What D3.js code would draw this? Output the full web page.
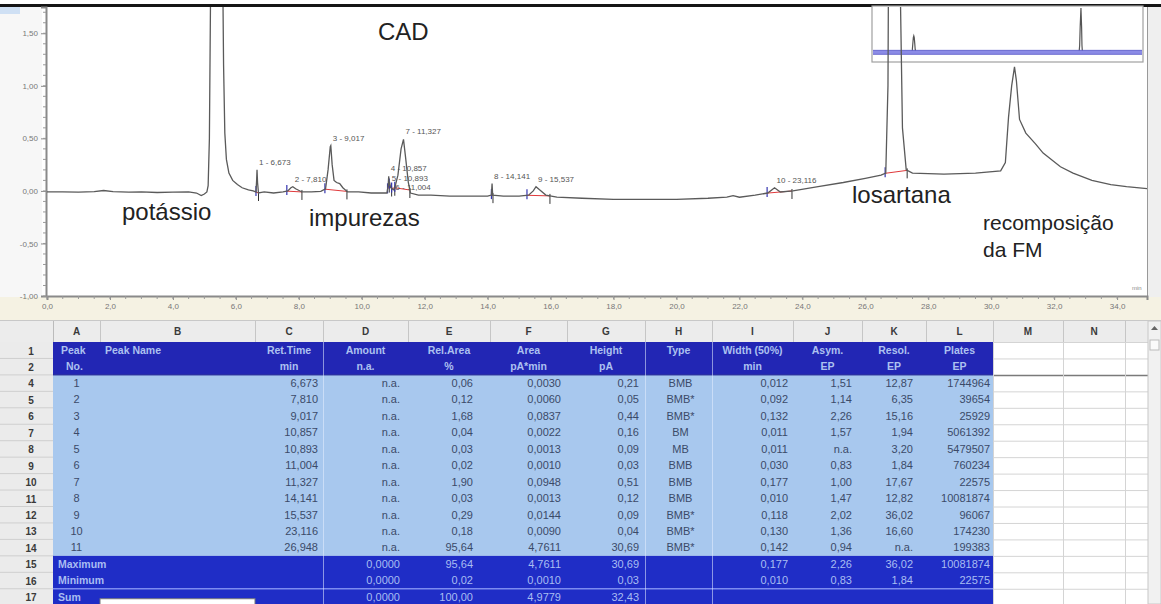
<!DOCTYPE html>
<html>
<head>
<meta charset="utf-8">
<script src="https://cdn.jsdelivr.net/npm/d3@7"></script>
<style>
  html, body { margin: 0; padding: 0; background: #fff; }
  svg { display: block; font-family: Arial, "Liberation Sans", sans-serif; }
</style>
</head>
<body>
<svg id="chart" width="1161" height="604"></svg>
<script>
// ---- chromatogram trace: retention time (min) and detector signal (pA) ----
const traceTime = [
  0, 0.5, 1.0, 1.5, 1.8, 2.1, 2.6, 3.0, 3.5, 4.0, 4.5, 4.75, 4.9, 5.0, 5.08,
  5.12, 5.16, 5.2, 5.26, 5.33, 5.39, 5.45, 5.52, 5.57, 5.61, 5.65, 5.7, 5.78, 5.9, 6.05,
  6.2, 6.4, 6.55, 6.64, 6.66, 6.673, 6.69, 6.72, 6.9, 7.2, 7.5, 7.65, 7.75, 7.81, 7.9,
  8.1, 8.4, 8.7, 8.85, 8.93, 9.0, 9.017, 9.06, 9.12, 9.2, 9.3, 9.4, 9.55, 9.9, 10.3,
  10.6, 10.8, 10.84, 10.857, 10.875, 10.893, 10.92, 11.004, 11.05, 11.15, 11.25, 11.327, 11.4, 11.48, 11.55,
  11.8, 12.2, 12.8, 13.5, 14.0, 14.12, 14.141, 14.16, 14.5, 15.0, 15.3, 15.45, 15.537, 15.65, 15.85,
  16.2, 17.0, 18.0, 19.0, 20.0, 21.0, 21.6, 21.8, 22.0, 22.5, 22.9, 23.116, 23.3, 23.7, 24.5,
  25.3, 26.0, 26.5, 26.65, 26.72, 26.78, 26.85, 26.948, 27.03, 27.08, 27.12, 27.18, 27.3, 27.5, 28.5,
  29.5, 30.3, 30.45, 30.55, 30.65, 30.74, 30.8, 30.9, 31.1, 31.4, 31.65, 32.2, 32.6, 33.2, 33.8,
  34.3, 35.0
];
const traceSignal = [
  -0.010, -0.010, -0.012, -0.006, 0.004, -0.006, -0.012, -0.010, -0.015, -0.012, -0.010, -0.020, -0.045, -0.030, -0.010,
  0.05, 0.5, 2.0, 6.0, 10.5, 11.7, 10.5, 6.0, 2.5, 1.2, 0.55, 0.30, 0.17, 0.10, 0.06,
  0.03, 0.01, 0.0, -0.01, 0.10, 0.20, 0.08, -0.02, -0.01, -0.02, -0.01, 0.0, 0.03, 0.04, 0.02,
  -0.01, -0.01, -0.005, 0.02, 0.20, 0.42, 0.43, 0.25, 0.10, 0.08, 0.07, 0.03, -0.01, -0.01, -0.02,
  -0.02, -0.02, 0.05, 0.14, 0.06, 0.07, 0.03, 0.01, 0.03, 0.15, 0.40, 0.49, 0.30, 0.08, -0.02,
  -0.04, -0.04, -0.05, -0.05, -0.05, -0.04, 0.07, -0.04, -0.05, -0.05, -0.04, 0.0, 0.04, 0.01, -0.04,
  -0.06, -0.07, -0.08, -0.08, -0.08, -0.07, -0.06, -0.045, -0.06, -0.04, -0.02, 0.03, -0.01, 0.0, 0.04,
  0.08, 0.12, 0.15, 0.17, 1.0, 5.0, 18.0, 30.86, 18.0, 5.0, 1.75, 0.6, 0.20, 0.17, 0.16,
  0.17, 0.19, 0.27, 0.70, 1.00, 1.18, 1.05, 0.68, 0.55, 0.45, 0.36, 0.23, 0.17, 0.10, 0.06,
  0.04, 0.02
];

// ---- integrated peaks ----
const peakNo     = [1, 2, 3, 4, 5, 6, 7, 8, 9, 10, 11];
const peakTime   = [6.673, 7.810, 9.017, 10.857, 10.893, 11.004, 11.327, 14.141, 15.537, 23.116, 26.948];
const peakStart  = [6.64, 7.62, 8.83, 10.82, 10.875, 10.95, 11.05, 14.12, 15.25, 22.88, 26.63];
const peakEnd    = [6.72, 8.10, 9.53, 10.875, 10.95, 11.05, 11.53, 14.17, 15.98, 23.67, 27.33];

// ---- report table ----
const colLetters = ["A", "B", "C", "D", "E", "F", "G", "H", "I", "J", "K", "L", "M", "N"];
const rowNumbers = [1, 2, 4, 5, 6, 7, 8, 9, 10, 11, 12, 13, 14, 15, 16, 17];
const headerTop  = ["Peak", "Peak Name", "Ret.Time", "Amount", "Rel.Area", "Area", "Height", "Type", "Width (50%)", "Asym.", "Resol.", "Plates"];
const headerUnit = ["No.", "", "min", "n.a.", "%", "pA*min", "pA", "", "min", "EP", "EP", "EP"];
const relArea    = [0.06, 0.12, 1.68, 0.04, 0.03, 0.02, 1.90, 0.03, 0.29, 0.18, 95.64];
const area       = [0.0030, 0.0060, 0.0837, 0.0022, 0.0013, 0.0010, 0.0948, 0.0013, 0.0144, 0.0090, 4.7611];
const height     = [0.21, 0.05, 0.44, 0.16, 0.09, 0.03, 0.51, 0.12, 0.09, 0.04, 30.69];
const peakType   = ["BMB", "BMB*", "BMB*", "BM", "MB", "BMB", "BMB", "BMB", "BMB*", "BMB*", "BMB*"];
const width50    = [0.012, 0.092, 0.132, 0.011, 0.011, 0.030, 0.177, 0.010, 0.118, 0.130, 0.142];
const asym       = [1.51, 1.14, 2.26, 1.57, null, 0.83, 1.00, 1.47, 2.02, 1.36, 0.94];
const resol      = [12.87, 6.35, 15.16, 1.94, 3.20, 1.84, 17.67, 12.82, 36.02, 16.60, null];
const plates     = [1744964, 39654, 25929, 5061392, 5479507, 760234, 22575, 10081874, 96067, 174230, 199383];

const summaryLabel   = ["Maximum", "Minimum", "Sum"];
const summaryAmount  = [0, 0, 0];
const summaryRelArea = [95.64, 0.02, 100.00];
const summaryArea    = [4.7611, 0.0010, 4.9779];
const summaryHeight  = [30.69, 0.03, 32.43];
const summaryWidth   = [0.177, 0.010, null];
const summaryAsym    = [2.26, 0.83, null];
const summaryResol   = [36.02, 1.84, null];
const summaryPlates  = [10081874, 22575, null];

// ---- number formats (Portuguese decimal comma) ----
const pt = d3.formatLocale({ decimal: ",", thousands: ".", grouping: [3], currency: ["", ""], minus: "-" });
const f1 = pt.format(".1f"), f2 = pt.format(".2f"), f3 = pt.format(".3f"), f4 = pt.format(".4f"), fInt = pt.format("d");
const orNa = (f) => (v) => (v == null ? "n.a." : f(v));

const svg = d3.select("#chart");

// ================= chromatogram panel =================
const x = d3.scaleLinear().domain([0, 34.95]).range([47, 1147]);
const y = d3.scaleLinear().domain([-1.0, 1.75]).range([296, 7]);

// window chrome
svg.append("rect").attr("x", 0).attr("y", 0).attr("width", 1161).attr("height", 604).attr("fill", "#fff");
svg.append("rect").attr("x", 0).attr("y", 7).attr("width", 42).attr("height", 290).attr("fill", "#f7f7f7");
svg.append("rect").attr("x", 0).attr("y", 7).attr("width", 20).attr("height", 7).attr("fill", "#cfe0f4");
svg.append("rect").attr("x", 1148).attr("y", 7).attr("width", 13).attr("height", 290).attr("fill", "#efefef");
svg.append("rect").attr("x", 0).attr("y", 297).attr("width", 1161).attr("height", 23).attr("fill", "#f5f2e3");
svg.append("line").attr("x1", 1147.5).attr("x2", 1147.5).attr("y1", 7).attr("y2", 297).attr("stroke", "#999");
svg.append("rect").attr("x", 0).attr("y", 4).attr("width", 1161).attr("height", 3).attr("fill", "#151515");

// trace sampling helper
const bis = d3.bisector(d => d).left;
function signalAt(t) {
  const i = Math.max(1, Math.min(traceTime.length - 1, bis(traceTime, t)));
  const t0 = traceTime[i - 1], t1 = traceTime[i];
  const k = (t - t0) / (t1 - t0);
  return traceSignal[i - 1] + k * (traceSignal[i] - traceSignal[i - 1]);
}
const tracePts = traceTime.map((t, i) => [t, traceSignal[i]]);

// overview inset (full signal range)
const xi = d3.scaleLinear().domain([0, 34.95]).range([872, 1143]);
const yi = d3.scaleLinear().domain([-1.5, 31.5]).range([55, 7]);
const inset = svg.append("g");
inset.append("rect").attr("x", 872).attr("y", 6).attr("width", 271).attr("height", 56)
  .attr("fill", "#fff").attr("stroke", "#a0a0a0").attr("stroke-width", 1.2);
inset.append("clipPath").attr("id", "insetClip").append("rect")
  .attr("x", 873).attr("y", 7).attr("width", 269).attr("height", 54);
const insetBody = inset.append("g").attr("clip-path", "url(#insetClip)");
insetBody.append("path").datum(tracePts)
  .attr("d", d3.line().x(d => xi(d[0])).y(d => yi(d[1])))
  .attr("fill", "none").attr("stroke", "#555").attr("stroke-width", 1.2);
// visible window of the main view, drawn in the overview
insetBody.append("rect")
  .attr("x", xi(x.domain()[0])).attr("width", xi(x.domain()[1]) - xi(x.domain()[0]))
  .attr("y", yi(y.domain()[1])).attr("height", yi(y.domain()[0]) - yi(y.domain()[1]))
  .attr("fill", "#8b8be6").attr("stroke", "#5a5ac8").attr("stroke-width", 0.8);

// axes
const yAxis = d3.axisLeft(y).tickValues(d3.range(-1.0, 1.51, 0.5)).tickFormat(f2).tickSize(5).tickPadding(3);
const gy = svg.append("g").attr("transform", "translate(46,0)").call(yAxis);
gy.selectAll("line").attr("stroke", "#8a8a8a");
gy.select(".domain").attr("stroke", "#8a8a8a").attr("stroke-width", 2);
gy.selectAll("text").attr("font-size", 8).attr("fill", "#777");
svg.append("g").attr("transform", "translate(46,0)")
  .selectAll("line").data(d3.range(-10, 18).map(v => v / 10)).join("line")
  .attr("x1", -3).attr("x2", 0).attr("y1", d => y(d)).attr("y2", d => y(d))
  .attr("stroke", "#9a9a9a");

const xAxis = d3.axisBottom(x).tickValues(d3.range(0, 35, 2)).tickFormat(f1).tickSize(4).tickPadding(3);
const gx = svg.append("g").attr("transform", "translate(0,296)").call(xAxis);
gx.selectAll("line").attr("stroke", "#8a8a8a");
gx.select(".domain").attr("stroke", "#8a8a8a").attr("stroke-width", 2);
gx.selectAll("text").attr("font-size", 8).attr("fill", "#777");
svg.append("g").attr("transform", "translate(0,296)")
  .selectAll("line").data(d3.range(0, 69).map(v => v / 2)).join("line")
  .attr("x1", d => x(d)).attr("x2", d => x(d)).attr("y1", 0).attr("y2", 3)
  .attr("stroke", "#9a9a9a");
svg.append("text").attr("x", 1132).attr("y", 290).attr("font-size", 6).attr("fill", "#888").text("min");

// main trace
svg.append("clipPath").attr("id", "plotClip").append("rect")
  .attr("x", 47).attr("y", 7).attr("width", 1100).attr("height", 289);
const plotG = svg.append("g").attr("clip-path", "url(#plotClip)");

// peak baselines and delimiters
plotG.selectAll("line.base").data(peakNo).join("line").attr("class", "base")
  .attr("x1", (d, i) => x(peakStart[i])).attr("y1", (d, i) => y(signalAt(peakStart[i])))
  .attr("x2", (d, i) => x(peakEnd[i])).attr("y2", (d, i) => y(signalAt(peakEnd[i])))
  .attr("stroke", "#e0393b").attr("stroke-width", 1);
plotG.selectAll("line.endTick").data(peakNo).join("line").attr("class", "endTick")
  .attr("x1", (d, i) => x(peakEnd[i])).attr("x2", (d, i) => x(peakEnd[i]))
  .attr("y1", (d, i) => y(signalAt(peakEnd[i])) - 2).attr("y2", (d, i) => y(signalAt(peakEnd[i])) + 8)
  .attr("stroke", "#333").attr("stroke-width", 1);
plotG.selectAll("line.startTick").data(peakNo).join("line").attr("class", "startTick")
  .attr("x1", (d, i) => x(peakStart[i])).attr("x2", (d, i) => x(peakStart[i]))
  .attr("y1", (d, i) => y(signalAt(peakStart[i])) - 6).attr("y2", (d, i) => y(signalAt(peakStart[i])) + 4)
  .attr("stroke", "#3535b0").attr("stroke-width", 1.2);

plotG.append("path").datum(tracePts)
  .attr("d", d3.line().x(d => x(d[0])).y(d => y(d[1])))
  .attr("fill", "none").attr("stroke", "#5a5a5a").attr("stroke-width", 1.3);

// peak labels: placed just above each apex, stacked where they would collide
const labelFont = 8, labelGap = 9.5;
const peakLabels = peakNo.slice(0, 10).map((n, i) => {
  const txt = `${n} - ${f3(peakTime[i])}`;
  return { txt, x: x(peakTime[i]) + 2, y: y(signalAt(peakTime[i])) - 5, w: txt.length * 4.2 };
});
peakLabels.forEach((lb, i) => {
  for (let j = 0; j < i; j++) {
    const o = peakLabels[j];
    const xOverlap = lb.x < o.x + o.w && o.x < lb.x + lb.w;
    if (xOverlap && Math.abs(lb.y - o.y) < labelGap) lb.y = o.y + labelGap;
  }
});
svg.append("g").selectAll("text").data(peakLabels).join("text")
  .attr("x", d => d.x).attr("y", d => d.y)
  .attr("font-size", labelFont).attr("fill", "#555")
  .text(d => d.txt);

// annotations
const notes = [
  { text: "CAD", x: 378, y: 40, size: 24 },
  { text: "potássio", x: 122, y: 220, size: 24 },
  { text: "impurezas", x: 309, y: 226, size: 24 },
  { text: "losartana", x: 852, y: 203, size: 24 },
  { text: "recomposição", x: 983, y: 230, size: 21 },
  { text: "da FM", x: 983, y: 257, size: 21 }
];
svg.append("g").selectAll("text").data(notes).join("text")
  .attr("x", d => d.x).attr("y", d => d.y).attr("font-size", d => d.size)
  .attr("fill", "#222").text(d => d.text);

// ================= report table =================
const edges = [53, 100, 255, 323, 408, 490, 567, 645, 712, 793, 862, 926, 993, 1063, 1125, 1148];
const rightPad = [0, 0, 5, 8, 17, 6, 6, 0, 5, 10, 13, 3];
const rowH = 16.45, rowTop0 = 342, letterTop = 321;
const rowTop = k => rowTop0 + k * rowH;
const tableBottom = 604;

const tbl = svg.append("g");
tbl.append("rect").attr("x", 0).attr("y", 320).attr("width", 1161).attr("height", 284).attr("fill", "#fff");
tbl.append("line").attr("x1", 0).attr("x2", 1161).attr("y1", 320.5).attr("y2", 320.5).attr("stroke", "#c8c8c8");

// column letters row
tbl.append("rect").attr("x", 0).attr("y", letterTop).attr("width", 1148).attr("height", rowTop0 - letterTop).attr("fill", "#ececec");
tbl.selectAll("line.colSep").data(edges).join("line").attr("class", "colSep")
  .attr("x1", d => d + 0.5).attr("x2", d => d + 0.5).attr("y1", letterTop).attr("y2", rowTop0)
  .attr("stroke", "#c6c6c6");
tbl.selectAll("text.letter").data(colLetters).join("text").attr("class", "letter")
  .attr("x", (d, i) => (edges[i] + edges[i + 1]) / 2).attr("y", letterTop + 14)
  .attr("text-anchor", "middle").attr("font-size", 10).attr("font-weight", "bold").attr("fill", "#3a3a3a")
  .text(d => d);

// row number column
tbl.append("rect").attr("x", 0).attr("y", rowTop0).attr("width", 53).attr("height", tableBottom - rowTop0).attr("fill", "#ebebeb");
tbl.selectAll("line.rowSepL").data(rowNumbers).join("line").attr("class", "rowSepL")
  .attr("x1", 0).attr("x2", 53).attr("y1", (d, k) => rowTop(k + 1)).attr("y2", (d, k) => rowTop(k + 1))
  .attr("stroke", "#cfcfcf");
tbl.selectAll("text.rownum").data(rowNumbers).join("text").attr("class", "rownum")
  .attr("x", 31).attr("y", (d, k) => rowTop(k) + 12.5).attr("text-anchor", "middle")
  .attr("font-size", 10).attr("font-weight", "bold").attr("fill", "#3a3a3a").text(d => d);
tbl.append("line").attr("x1", 53.5).attr("x2", 53.5).attr("y1", letterTop).attr("y2", tableBottom).attr("stroke", "#bbb");

// empty spreadsheet cells (M, N and spare column)
tbl.selectAll("line.gridH").data(d3.range(0, 17)).join("line").attr("class", "gridH")
  .attr("x1", edges[12]).attr("x2", 1148).attr("y1", k => rowTop(k) + 0.5).attr("y2", k => rowTop(k) + 0.5)
  .attr("stroke", k => (k === 2 ? "#7a7a7a" : "#d4d4d4")).attr("stroke-width", k => (k === 2 ? 1.5 : 1));
tbl.selectAll("line.gridV").data(edges.slice(12)).join("line").attr("class", "gridV")
  .attr("x1", d => d + 0.5).attr("x2", d => d + 0.5).attr("y1", rowTop0).attr("y2", tableBottom)
  .attr("stroke", "#d4d4d4");

// blue report block
const blockX0 = edges[0], blockX1 = edges[12];
tbl.append("rect").attr("x", blockX0).attr("y", rowTop(0)).attr("width", blockX1 - blockX0).attr("height", rowH * 2)
  .attr("fill", "#2226b4");
tbl.append("rect").attr("x", blockX0).attr("y", rowTop(2)).attr("width", blockX1 - blockX0).attr("height", rowH * 11)
  .attr("fill", "#a8c8ee");
tbl.append("rect").attr("x", blockX0).attr("y", rowTop(13)).attr("width", blockX1 - blockX0).attr("height", tableBottom - rowTop(13))
  .attr("fill", "#1f2dc6");
tbl.append("line").attr("x1", blockX0).attr("x2", blockX1).attr("y1", rowTop(15)).attr("y2", rowTop(15))
  .attr("stroke", "#7d8cf0").attr("stroke-width", 1.5);
tbl.append("line").attr("x1", blockX0).attr("x2", blockX1).attr("y1", rowTop(2)).attr("y2", rowTop(2))
  .attr("stroke", "#1a1e90").attr("stroke-width", 1);
[3, 7, 8].forEach(ci => {
  tbl.append("line").attr("x1", edges[ci] + 0.5).attr("x2", edges[ci] + 0.5)
    .attr("y1", rowTop(0)).attr("y2", tableBottom)
    .attr("stroke", "#e6efff").attr("stroke-opacity", 0.55);
});

// header text
const hdrColor = "#adc1f0";
headerTop.forEach((h, ci) => {
  const cx = (edges[ci] + edges[ci + 1]) / 2;
  const left = ci <= 1;
  const tx = ci === 0 ? edges[0] + 8 : ci === 1 ? edges[1] + 5 : cx;
  tbl.append("text").attr("x", tx).attr("y", rowTop(0) + 12)
    .attr("text-anchor", left ? "start" : "middle").attr("font-size", 10.5).attr("font-weight", "bold")
    .attr("fill", hdrColor).text(h);
  if (headerUnit[ci]) {
    tbl.append("text").attr("x", ci === 0 ? edges[0] + 13 : cx).attr("y", rowTop(1) + 12)
      .attr("text-anchor", left ? "start" : "middle").attr("font-size", 10.5).attr("font-weight", "bold")
      .attr("fill", hdrColor).text(headerUnit[ci]);
  }
});

// peak rows
const dataColor = "#3b4a68";
const cellRight = ci => edges[ci + 1] - rightPad[ci];
const dataCols = [
  { ci: 2, fmt: f3, vals: peakTime },
  { ci: 3, fmt: () => "n.a.", vals: peakTime },
  { ci: 4, fmt: f2, vals: relArea },
  { ci: 5, fmt: f4, vals: area },
  { ci: 6, fmt: f2, vals: height },
  { ci: 8, fmt: f3, vals: width50 },
  { ci: 9, fmt: orNa(f2), vals: asym },
  { ci: 10, fmt: orNa(f2), vals: resol },
  { ci: 11, fmt: fInt, vals: plates }
];
peakNo.forEach((n, r) => {
  const by = rowTop(r + 2) + 12;
  tbl.append("text").attr("x", (edges[0] + edges[1]) / 2).attr("y", by).attr("text-anchor", "middle")
    .attr("font-size", 11).attr("fill", dataColor).text(n);
  tbl.append("text").attr("x", (edges[7] + edges[8]) / 2 + 2).attr("y", by).attr("text-anchor", "middle")
    .attr("font-size", 11).attr("fill", dataColor).text(peakType[r]);
  dataCols.forEach(c => {
    tbl.append("text").attr("x", cellRight(c.ci)).attr("y", by).attr("text-anchor", "end")
      .attr("font-size", 11).attr("fill", dataColor).text(c.fmt(c.vals[r]));
  });
});

// summary rows
const sumColor = "#a9bdf2";
const sumCols = [
  { ci: 3, fmt: f4, vals: summaryAmount },
  { ci: 4, fmt: f2, vals: summaryRelArea },
  { ci: 5, fmt: f4, vals: summaryArea },
  { ci: 6, fmt: f2, vals: summaryHeight },
  { ci: 8, fmt: f3, vals: summaryWidth },
  { ci: 9, fmt: f2, vals: summaryAsym },
  { ci: 10, fmt: f2, vals: summaryResol },
  { ci: 11, fmt: fInt, vals: summaryPlates }
];
summaryLabel.forEach((lab, r) => {
  const by = rowTop(r + 13) + 12;
  tbl.append("text").attr("x", edges[0] + 5).attr("y", by).attr("font-size", 10.5).attr("font-weight", "bold")
    .attr("fill", sumColor).text(lab);
  sumCols.forEach(c => {
    const v = c.vals[r];
    if (v == null) return;
    tbl.append("text").attr("x", cellRight(c.ci)).attr("y", by).attr("text-anchor", "end")
      .attr("font-size", 11).attr("fill", sumColor).text(c.fmt(v));
  });
});
// input box in the last row
tbl.append("rect").attr("x", edges[1]).attr("y", rowTop(15) + 10).attr("width", edges[2] - edges[1]).attr("height", 12)
  .attr("fill", "#fff").attr("stroke", "#777");

// vertical scroll bar
tbl.append("rect").attr("x", 1148).attr("y", 321).attr("width", 13).attr("height", 283).attr("fill", "#f1f1f1").attr("stroke", "#c8c8c8");
tbl.append("path").attr("d", "M1151,330 L1154.5,326 L1158,330 Z").attr("fill", "#666");
tbl.append("rect").attr("x", 1150).attr("y", 340).attr("width", 9).attr("height", 10).attr("fill", "#fafafa").attr("stroke", "#bbb");
</script>
</body>
</html>
